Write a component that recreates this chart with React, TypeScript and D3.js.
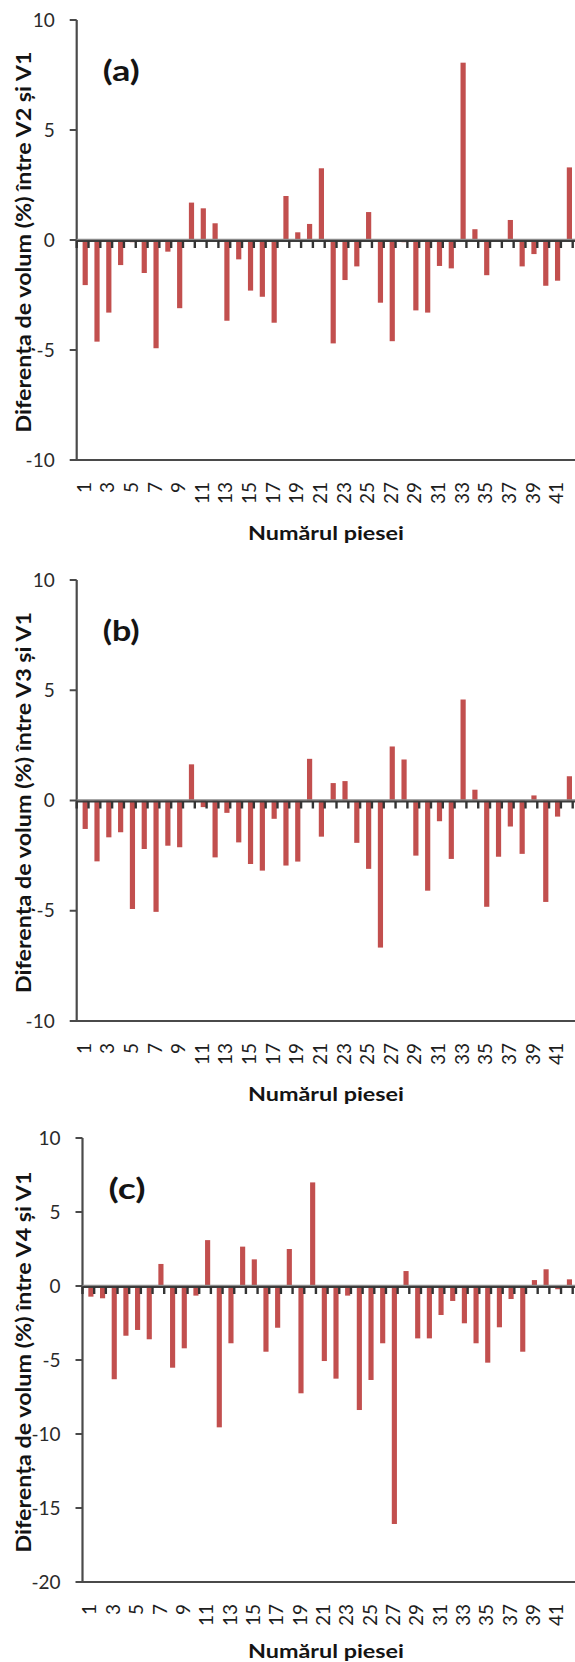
import React from "react";
import * as d3 from "d3";

// Piece numbers on the x axis
const categories = [
  1, 2, 3, 4, 5, 6, 7, 8, 9, 10, 11, 12, 13, 14, 15, 16, 17, 18, 19, 20, 21,
  22, 23, 24, 25, 26, 27, 28, 29, 30, 31, 32, 33, 34, 35, 36, 37, 38, 39, 40, 41, 42,
];

// Only every second piece number is labelled
const xTickLabels = [1, 3, 5, 7, 9, 11, 13, 15, 17, 19, 21, 23, 25, 27, 29, 31, 33, 35, 37, 39, 41];

// Volume difference (%) between V2 and V1
const diffV2 = [
  -2.05, -4.62, -3.3, -1.14, -0.1, -1.5, -4.92, -0.53, -3.1, 1.7, 1.44, 0.76, -3.67, -0.88,
  -2.3, -2.58, -3.76, 2.0, 0.35, 0.73, 3.26, -4.7, -1.82, -1.2, 1.27, -2.85, -4.6, -0.1,
  -3.2, -3.3, -1.18, -1.29, 8.06, 0.49, -1.6, -0.05, 0.91, -1.2, -0.64, -2.08, -1.85, 3.3,
];

// Volume difference (%) between V3 and V1
const diffV3 = [
  -1.29, -2.76, -1.67, -1.44, -4.92, -2.2, -5.05, -2.05, -2.12, 1.64, -0.3, -2.58, -0.56, -1.9,
  -2.88, -3.18, -0.83, -2.95, -2.77, 1.89, -1.64, 0.79, 0.88, -1.92, -3.1, -6.67, 2.45, 1.86,
  -2.5, -4.09, -0.94, -2.65, 4.58, 0.49, -4.82, -2.55, -1.18, -2.42, 0.23, -4.6, -0.73, 1.1,
];

// Volume difference (%) between V4 and V1
const diffV4 = [
  -0.72, -0.83, -6.3, -3.36, -2.97, -3.6, 1.49, -5.52, -4.21, -0.65, 3.1, -9.55, -3.87, 2.66,
  1.8, -4.44, -2.82, 2.5, -7.25, 7.0, -5.07, -6.26, -0.65, -8.38, -6.35, -3.87, -16.08, 1.01,
  -3.54, -3.54, -1.96, -1.01, -2.52, -3.87, -5.18, -2.79, -0.88, -4.44, 0.4, 1.13, -0.22, 0.45,
];

const yTicksAB = [10, 5, 0, -5, -10];
const yTicksC = [10, 5, 0, -5, -10, -15, -20];

const panelLetters = ["(a)", "(b)", "(c)"];
const yTitles = [
  "Diferența de volum (%) între V2 și V1",
  "Diferența de volum (%) între V3 și V1",
  "Diferența de volum (%) între V4 și V1",
];
const xTitle = "Numărul piesei";

const W = 575;
const H = 1662;
const FONT = "Lato, 'Open Sans', sans-serif";
const BAR = "#c24f4e";
const AXIS = "#4a4a4a";

type PanelProps = {
  values: number[];
  ticks: number[];
  letter: string;
  yTitle: string;
  top: number;
  bottom: number;
  left: number;
  right: number;
};

function Panel({ values, ticks, letter, yTitle, top, bottom, left, right }: PanelProps) {
  const x = d3.scaleBand<number>().domain(categories).range([left, right]).padding(0);
  const y = d3
    .scaleLinear()
    .domain([d3.min(ticks)!, d3.max(ticks)!])
    .range([bottom, top]);
  const bw = x.bandwidth();
  const y0 = y(0);
  const labelRight = left - 22;
  const midY = (top + bottom) / 2;
  const edges = d3.range(categories.length + 1).map((i) => left + i * bw);

  return (
    <g>
      {/* y axis title */}
      <text
        transform={`translate(31, ${midY + 2}) rotate(-90)`}
        textAnchor="middle"
        fontFamily={FONT}
        fontWeight={700}
        fontSize={21}
        fill="#141414"
        textLength={381}
        lengthAdjust="spacingAndGlyphs"
      >
        {yTitle}
      </text>

      {/* panel letter */}
      <text
        x={left + 26}
        y={top + 61}
        fontFamily={FONT}
        fontWeight={700}
        fontSize={28}
        fill="#141414"
        textLength={37}
        lengthAdjust="spacingAndGlyphs"
      >
        {letter}
      </text>

      {/* y ticks and labels */}
      {ticks.map((t) => (
        <g key={t}>
          <line x1={left - 7} x2={left} y1={y(t)} y2={y(t)} stroke={AXIS} strokeWidth={2} />
          <text
            x={labelRight}
            y={y(t)}
            dy="0.35em"
            textAnchor="end"
            fontFamily={FONT}
            fontSize={19}
            fill="#2a2a2a"
          >
            {t}
          </text>
        </g>
      ))}

      {/* bars */}
      {values.map((v, i) => {
        const c = categories[i];
        const yv = y(v);
        return (
          <rect
            key={c}
            x={(x(c) as number) + bw * 0.5}
            width={bw * 0.44}
            y={Math.min(yv, y0)}
            height={Math.abs(yv - y0)}
            fill={BAR}
          />
        );
      })}

      {/* y axis line and bottom border */}
      <line x1={left} x2={left} y1={top} y2={bottom + 1} stroke={AXIS} strokeWidth={2.2} />
      <line x1={left} x2={W} y1={bottom} y2={bottom} stroke={AXIS} strokeWidth={2.2} />

      {/* category axis at zero */}
      <line x1={left} x2={W} y1={y0 - 0.5} y2={y0 - 0.5} stroke="#8a8a8a" strokeWidth={1.5} />
      <line x1={left} x2={W} y1={y0 + 1} y2={y0 + 1} stroke="#3c3c3c" strokeWidth={2.2} />
      {edges.map((ex, i) => (
        <line key={i} x1={ex} x2={ex} y1={y0 + 1} y2={y0 + 8} stroke="#333" strokeWidth={2.4} />
      ))}

      {/* category labels */}
      {xTickLabels.map((c) => (
        <text
          key={c}
          transform={`translate(${(x(c) as number) + bw / 2 + 1.5}, ${bottom + 22}) rotate(-90)`}
          dy="0.35em"
          textAnchor="end"
          fontFamily={FONT}
          fontSize={19}
          fill="#1e1e1e"
        >
          {c}
        </text>
      ))}
    </g>
  );
}

export default function App() {
  const panels = [
    { values: diffV2, ticks: yTicksAB, top: 20, bottom: 460, left: 76.7, xTitleY: 540 },
    { values: diffV3, ticks: yTicksAB, top: 580, bottom: 1021, left: 76.7, xTitleY: 1101 },
    { values: diffV4, ticks: yTicksC, top: 1138, bottom: 1582, left: 82.5, xTitleY: 1658 },
  ];
  return (
    <svg
      width={W}
      height={H}
      style={{ position: "absolute", left: 0, top: 0, background: "#fff" }}
    >
      <rect width={W} height={H} fill="#fff" />
      {panels.map((p, i) => (
        <g key={i}>
          <Panel
            values={p.values}
            ticks={p.ticks}
            letter={panelLetters[i]}
            yTitle={yTitles[i]}
            top={p.top}
            bottom={p.bottom}
            left={p.left}
            right={572.7}
          />
          <text
            x={326}
            y={p.xTitleY}
            textAnchor="middle"
            fontFamily={FONT}
            fontWeight={700}
            fontSize={19}
            fill="#141414"
            textLength={156}
            lengthAdjust="spacingAndGlyphs"
          >
            {xTitle}
          </text>
        </g>
      ))}
    </svg>
  );
}
